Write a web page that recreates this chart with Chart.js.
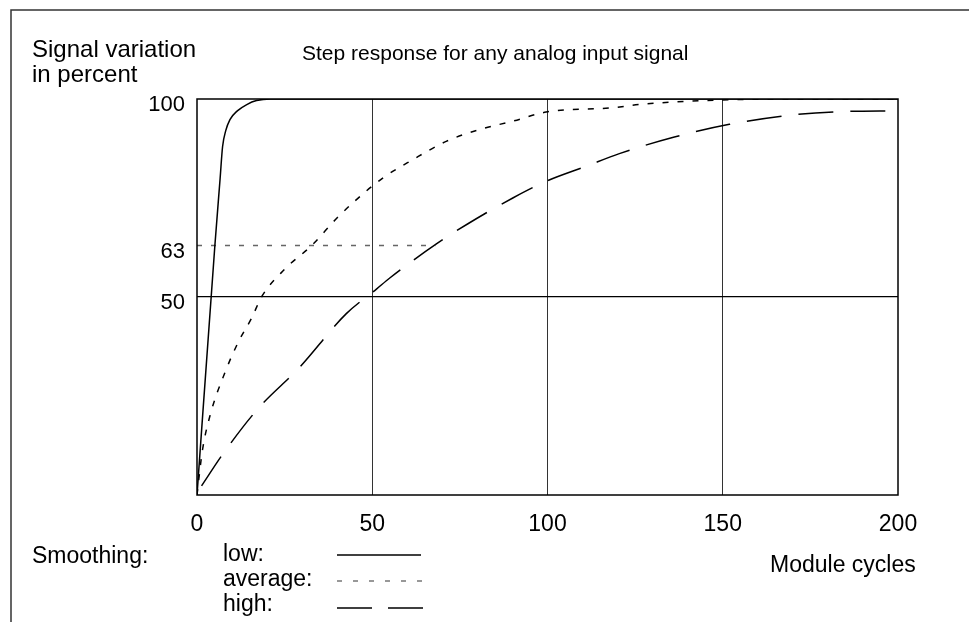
<!DOCTYPE html>
<html>
<head>
<meta charset="utf-8">
<script src="https://cdn.jsdelivr.net/npm/chart.js@4.4.1/dist/chart.umd.min.js"></script>
<style>
  body { margin: 0; background: #fff; }
  #wrap { width: 969px; height: 622px; }
</style>
</head>
<body>
<div id="wrap"><canvas id="stepChart" width="969" height="622"></canvas></div>
<script>
// step response values (x = module cycles, y = percent)
const lowX = [0, 5.1, 6.6, 7.3, 8.2, 9.4, 11.5, 14.2, 17, 21, 200];
const lowY = [0, 63, 80, 88, 92, 94.8, 97, 98.6, 99.6, 100, 100];

const avgX = [0, 1.5, 3.7, 8, 12, 15.6, 18.4, 25, 32.7, 40, 45.5, 53.1, 61.6, 71.1, 80.6, 90.1, 99.6, 118.6, 126, 148, 170, 200];
const avgY = [0, 11, 20, 31, 39, 44.7, 50, 57, 63, 70, 74.6, 80.1, 84.7, 89.3, 92.3, 94.4, 96.7, 97.8, 98.6, 99.7, 100, 100];

const highX = [1.3, 7.5, 17.5, 29, 42.6, 51.2, 55, 68.3, 77.3, 90.1, 99.6, 111, 120.5, 136.2, 151.9, 168, 183.2, 200];
const highY = [2.3, 10.5, 21.9, 32, 45.8, 52, 54.8, 63.4, 68.5, 75, 79.2, 83, 86.2, 90.4, 93.6, 95.8, 96.8, 97];

// 63 % marker line
const refX = [0, 68];
const refY = [63, 63];

const xTicks = [0, 50, 100, 150, 200];
const yTicks = [50, 63, 100];

const FONT = '"Liberation Sans", Arial, sans-serif';

const toPoints = (xs, ys) => xs.map((x, i) => ({ x: x, y: ys[i] }));

// texts and frame around the plot
const decorations = {
  id: 'decorations',
  afterDraw(chart) {
    const ctx = chart.ctx;
    const a = chart.chartArea;
    ctx.save();

    // outer frame (top and left only)
    ctx.strokeStyle = '#333';
    ctx.lineWidth = 1.5;
    ctx.beginPath();
    ctx.moveTo(969, 10);
    ctx.lineTo(11, 10);
    ctx.lineTo(11, 622);
    ctx.stroke();

    // plot box
    ctx.strokeStyle = '#000';
    ctx.lineWidth = 1.5;
    ctx.strokeRect(a.left, a.top, a.right - a.left, a.bottom - a.top);

    ctx.fillStyle = '#000';
    ctx.textBaseline = 'alphabetic';
    ctx.textAlign = 'left';
    ctx.font = '24px ' + FONT;
    ctx.fillText('Signal variation', 32, 57);
    ctx.fillText('in percent', 32, 82);
    ctx.font = '21px ' + FONT;
    ctx.fillText('Step response for any analog input signal', 302, 60);

    ctx.font = '23px ' + FONT;
    ctx.fillText('Module cycles', 770, 572);
    ctx.fillText('Smoothing:', 32, 563);
    ctx.fillText('low:', 223, 561);
    ctx.fillText('average:', 223, 586);
    ctx.fillText('high:', 223, 611);

    // legend samples
    ctx.lineWidth = 1.5;
    ctx.strokeStyle = '#000';
    ctx.setLineDash([]);
    ctx.beginPath(); ctx.moveTo(337, 555); ctx.lineTo(421, 555); ctx.stroke();
    ctx.strokeStyle = '#777';
    ctx.setLineDash([5, 11]);
    ctx.beginPath(); ctx.moveTo(337, 581); ctx.lineTo(425, 581); ctx.stroke();
    ctx.strokeStyle = '#000';
    ctx.setLineDash([35, 16]);
    ctx.beginPath(); ctx.moveTo(337, 608); ctx.lineTo(425, 608); ctx.stroke();

    ctx.restore();
  }
};

new Chart(document.getElementById('stepChart'), {
  type: 'line',
  data: {
    datasets: [
      {
        label: 'low',
        data: toPoints(lowX, lowY),
        borderColor: '#000',
        borderWidth: 1.5,
        pointRadius: 0,
        cubicInterpolationMode: 'monotone',
      },
      {
        label: 'average',
        data: toPoints(avgX, avgY),
        borderColor: '#000',
        borderWidth: 1.5,
        borderDash: [6, 9],
        pointRadius: 0,
        cubicInterpolationMode: 'monotone',
      },
      {
        label: 'high',
        data: toPoints(highX, highY),
        borderColor: '#000',
        borderWidth: 1.5,
        borderDash: [35, 17],
        pointRadius: 0,
        cubicInterpolationMode: 'monotone',
      },
      {
        label: '63 %',
        data: toPoints(refX, refY),
        borderColor: '#666',
        borderWidth: 1.3,
        borderDash: [5, 9],
        pointRadius: 0,
      },
    ],
  },
  options: {
    responsive: false,
    animation: false,
    layout: { padding: { top: 99, right: 71, left: 0, bottom: 0 } },
    scales: {
      x: {
        type: 'linear',
        min: 0,
        max: 200,
        afterBuildTicks: (scale) => { scale.ticks = xTicks.map(v => ({ value: v })); },
        afterFit: (scale) => { scale.height = 127; },
        border: { display: false },
        grid: {
          drawTicks: false,
          lineWidth: 1,
          color: (c) => (c.tick && c.tick.value > 0 && c.tick.value < 200 ? '#333' : 'rgba(0,0,0,0)'),
        },
        ticks: { color: '#000', font: { family: FONT, size: 23 }, padding: 16, maxRotation: 0 },
      },
      y: {
        min: 0,
        max: 100,
        afterBuildTicks: (scale) => { scale.ticks = yTicks.map(v => ({ value: v })); },
        afterFit: (scale) => { scale.width = 197; },
        border: { display: false },
        grid: {
          drawTicks: false,
          lineWidth: 1.2,
          color: (c) => (c.tick && c.tick.value === 50 ? '#000' : 'rgba(0,0,0,0)'),
        },
        ticks: { color: '#000', font: { family: FONT, size: 22 }, padding: 12, labelOffset: 6 },
      },
    },
    plugins: {
      legend: { display: false },
      tooltip: { enabled: false },
    },
  },
  plugins: [decorations],
});
</script>
</body>
</html>
